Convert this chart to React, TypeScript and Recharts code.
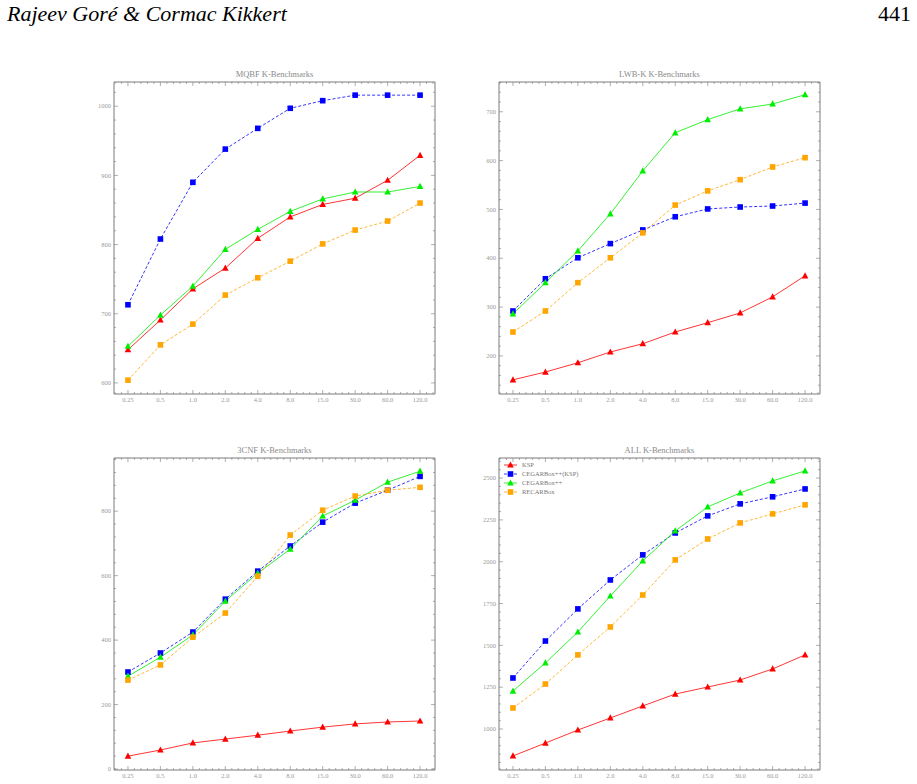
import React from 'react'
import { LineChart, Line, XAxis, YAxis } from 'recharts'

const FONT = '"Liberation Serif", "DejaVu Serif", serif'
const AXIS = '#7a7a7a'
const LABEL = '#9a9a9a'

const xLabels = ['0.25', '0.5', '1.0', '2.0', '4.0', '8.0', '15.0', '30.0', '60.0', '120.0']

// MQBF K-Benchmarks
const mqbfKsp = [648, 691, 736, 766, 809, 840, 858, 867, 893, 929]
const mqbfCegarKsp = [713, 808, 890, 938, 968, 997, 1008, 1016, 1016, 1016]
const mqbfCegar = [653, 698, 740, 793, 822, 848, 866, 876, 876, 884]
const mqbfRecar = [604, 655, 685, 727, 752, 776, 801, 821, 834, 860]

// LWB-K K-Benchmarks
const lwbKsp = [151, 167, 186, 208, 225, 249, 268, 288, 321, 364]
const lwbCegarKsp = [292, 358, 401, 430, 458, 485, 501, 505, 507, 513]
const lwbCegar = [286, 350, 415, 491, 579, 657, 684, 706, 716, 735]
const lwbRecar = [249, 292, 350, 401, 452, 509, 538, 561, 587, 606]

// 3CNF K-Benchmarks
const cnfKsp = [40, 59, 81, 93, 105, 118, 130, 140, 146, 149]
const cnfCegarKsp = [301, 360, 425, 527, 614, 692, 766, 825, 865, 908]
const cnfCegar = [288, 347, 416, 521, 608, 682, 785, 834, 890, 924]
const cnfRecar = [276, 323, 409, 484, 598, 726, 803, 847, 865, 874]

// ALL K-Benchmarks
const allKsp = [839, 916, 994, 1066, 1138, 1209, 1251, 1293, 1359, 1443]
const allCegarKsp = [1305, 1526, 1718, 1891, 2041, 2172, 2274, 2346, 2388, 2435]
const allCegar = [1227, 1395, 1580, 1795, 2005, 2184, 2328, 2411, 2483, 2543]
const allRecar = [1126, 1269, 1443, 1610, 1801, 2011, 2136, 2232, 2286, 2340]

const seriesStyle = [
  { key: 'ksp', name: 'KSP', color: '#ff0000', dash: undefined, shape: 'tri' },
  { key: 'cegarKsp', name: 'CEGARBox++(KSP)', color: '#0000ff', dash: '3 2', shape: 'sq' },
  { key: 'cegar', name: 'CEGARBox++', color: '#00ee00', dash: undefined, shape: 'tri' },
  { key: 'recar', name: 'RECARBox', color: '#ffa500', dash: '3 2', shape: 'sq' },
]

const X_DOMAIN: [number, number] = [-0.43, 9.46]
const xTicks: number[] = []
for (let k = -2; k <= 47; k++) xTicks.push(k / 5)

function makeTicks(lo: number, hi: number, step: number) {
  const out: number[] = []
  for (let v = Math.ceil(lo / step) * step; v <= hi; v += step) out.push(Math.round(v * 1000) / 1000)
  return out
}

function Marker({ cx, cy, shape, color }: any) {
  if (cx == null || cy == null) return null
  if (shape === 'tri') {
    return <polygon points={`${cx},${cy - 3.6} ${cx + 3.3},${cy + 2.6} ${cx - 3.3},${cy + 2.6}`} fill={color} />
  }
  return <rect x={cx - 2.8} y={cy - 2.8} width={5.6} height={5.6} fill={color} />
}

function BottomTick(props: any) {
  const { x, y, payload } = props
  const k = Math.round(payload.value * 5)
  const major = k % 5 === 0
  return (
    <g>
      <line x1={x} x2={x} y1={y} y2={y - (major ? 4 : 2)} stroke={AXIS} strokeWidth={0.6} />
      {major && (
        <text x={x} y={y + 8} textAnchor="middle" fontSize={6.5} fill={LABEL} fontFamily={FONT}>
          {xLabels[k / 5]}
        </text>
      )}
    </g>
  )
}

function TopTick(props: any) {
  const { x, y, payload } = props
  const k = Math.round(payload.value * 5)
  const major = k % 5 === 0
  return <line x1={x} x2={x} y1={y} y2={y + (major ? 4 : 2)} stroke={AXIS} strokeWidth={0.6} />
}

function makeLeftTick(majorStep: number) {
  return (props: any) => {
    const { x, y, payload } = props
    const v = payload.value
    const major = Math.abs(v / majorStep - Math.round(v / majorStep)) < 1e-6
    return (
      <g>
        <line x1={x} x2={x + (major ? 4 : 2)} y1={y} y2={y} stroke={AXIS} strokeWidth={0.6} />
        {major && (
          <text x={x - 3} y={y + 2.2} textAnchor="end" fontSize={6.5} fill={LABEL} fontFamily={FONT}>
            {v}
          </text>
        )}
      </g>
    )
  }
}

function makeRightTick(majorStep: number) {
  return (props: any) => {
    const { x, y, payload } = props
    const v = payload.value
    const major = Math.abs(v / majorStep - Math.round(v / majorStep)) < 1e-6
    return <line x1={x} x2={x - (major ? 4 : 2)} y1={y} y2={y} stroke={AXIS} strokeWidth={0.6} />
  }
}

interface PanelProps {
  title: string
  left: number
  top: number
  height: number
  margin: { top: number; right: number; bottom: number; left: number }
  yDomain: [number, number]
  majorStep: number
  minorStep: number
  ksp: number[]
  cegarKsp: number[]
  cegar: number[]
  recar: number[]
  legend?: boolean
}

function Panel(p: PanelProps) {
  const width = 390
  const data = xLabels.map((label, i) => ({
    x: i,
    label,
    ksp: p.ksp[i],
    cegarKsp: p.cegarKsp[i],
    cegar: p.cegar[i],
    recar: p.recar[i],
  }))
  const yTicks = makeTicks(p.yDomain[0], p.yDomain[1], p.minorStep)
  const plotLeft = p.margin.left
  const plotRight = width - p.margin.right
  // the axes each take 1px, so the margins are 1px smaller than the plot offsets
  const m = {
    top: p.margin.top - 1,
    right: p.margin.right - 1,
    bottom: p.margin.bottom - 1,
    left: p.margin.left - 1,
  }
  return (
    <div style={{ position: 'absolute', left: p.left, top: p.top, width, height: p.height }}>
      <div
        style={{
          position: 'absolute',
          left: plotLeft,
          width: plotRight - plotLeft,
          top: p.margin.top - 13,
          textAlign: 'center',
          fontFamily: FONT,
          fontSize: 8.5,
          color: '#8a8a8a',
          lineHeight: '10px',
        }}
      >
        {p.title}
      </div>
      <LineChart width={width} height={p.height} data={data} margin={m}>
        <XAxis
          xAxisId="main"
          dataKey="x"
          type="number"
          domain={X_DOMAIN}
          allowDataOverflow
          ticks={xTicks}
          interval={0}
          height={1}
          tickSize={0}
          tickMargin={0}
          tickLine={false}
          tick={BottomTick}
          stroke={AXIS}
        />
        <XAxis
          xAxisId="top"
          orientation="top"
          dataKey="x"
          type="number"
          domain={X_DOMAIN}
          allowDataOverflow
          ticks={xTicks}
          interval={0}
          height={1}
          tickSize={0}
          tickMargin={0}
          tickLine={false}
          tick={TopTick}
          stroke={AXIS}
        />
        <YAxis
          yAxisId="main"
          type="number"
          domain={p.yDomain}
          allowDataOverflow
          ticks={yTicks}
          interval={0}
          width={1}
          tickSize={0}
          tickMargin={0}
          tickLine={false}
          tick={makeLeftTick(p.majorStep)}
          stroke={AXIS}
        />
        <YAxis
          yAxisId="right"
          orientation="right"
          type="number"
          domain={p.yDomain}
          allowDataOverflow
          ticks={yTicks}
          interval={0}
          width={1}
          tickSize={0}
          tickMargin={0}
          tickLine={false}
          tick={makeRightTick(p.majorStep)}
          stroke={AXIS}
        />
        {seriesStyle.map((s) => (
          <Line
            key={s.key}
            xAxisId="main"
            yAxisId="main"
            dataKey={s.key}
            name={s.name}
            type="linear"
            stroke={s.color}
            strokeWidth={0.8}
            strokeDasharray={s.dash}
            isAnimationActive={false}
            dot={(d: any) => <Marker key={`${s.key}-${d.index}`} cx={d.cx} cy={d.cy} shape={s.shape} color={s.color} />}
            activeDot={false}
          />
        ))}
      </LineChart>
      {p.legend && (
        <svg
          style={{ position: 'absolute', left: 0, top: 0, pointerEvents: 'none' }}
          width={width}
          height={80}
        >
          {seriesStyle.map((s, i) => {
            const yy = 25 + i * 9
            return (
              <g key={s.key}>
                <line x1={59} x2={72} y1={yy} y2={yy} stroke={s.color} strokeWidth={0.8} strokeDasharray={s.dash} />
                <Marker cx={65.5} cy={yy} shape={s.shape} color={s.color} />
                <text x={77} y={yy + 2.3} fontSize={6.5} fill="#777" fontFamily={FONT}>
                  {s.name}
                </text>
              </g>
            )
          })}
        </svg>
      )}
    </div>
  )
}

export default function App() {
  return (
    <div style={{ position: 'absolute', left: 0, top: 0, width: 917, height: 784, background: '#fff', overflow: 'hidden' }}>
      <div
        style={{
          position: 'absolute',
          left: 7,
          top: 1,
          fontFamily: FONT,
          fontStyle: 'italic',
          fontSize: 22,
          color: '#000',
          whiteSpace: 'nowrap',
        }}
      >
        Rajeev Goré &amp; Cormac Kikkert
      </div>
      <div
        style={{ position: 'absolute', right: 6, top: 1, fontFamily: FONT, fontSize: 22, color: '#000' }}
      >
        441
      </div>
      <Panel
        title="MQBF K-Benchmarks"
        left={60}
        top={60}
        height={350}
        margin={{ top: 22, right: 15, bottom: 16, left: 54 }}
        yDomain={[584, 1035]}
        majorStep={100}
        minorStep={20}
        ksp={mqbfKsp}
        cegarKsp={mqbfCegarKsp}
        cegar={mqbfCegar}
        recar={mqbfRecar}
      />
      <Panel
        title="LWB-K K-Benchmarks"
        left={445}
        top={60}
        height={350}
        margin={{ top: 22, right: 15, bottom: 16, left: 54 }}
        yDomain={[122, 761]}
        majorStep={100}
        minorStep={20}
        ksp={lwbKsp}
        cegarKsp={lwbCegarKsp}
        cegar={lwbCegar}
        recar={lwbRecar}
      />
      <Panel
        title="3CNF K-Benchmarks"
        left={60}
        top={440}
        height={344}
        margin={{ top: 18, right: 15, bottom: 14, left: 54 }}
        yDomain={[-3, 965]}
        majorStep={200}
        minorStep={40}
        ksp={cnfKsp}
        cegarKsp={cnfCegarKsp}
        cegar={cnfCegar}
        recar={cnfRecar}
      />
      <Panel
        title="ALL K-Benchmarks"
        left={445}
        top={440}
        height={344}
        margin={{ top: 18, right: 15, bottom: 14, left: 54 }}
        yDomain={[755, 2620]}
        majorStep={250}
        minorStep={50}
        ksp={allKsp}
        cegarKsp={allCegarKsp}
        cegar={allCegar}
        recar={allRecar}
        legend
      />
    </div>
  )
}
